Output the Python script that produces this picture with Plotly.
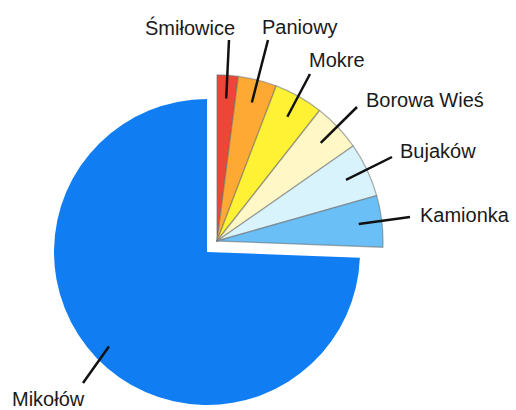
import math
import plotly.graph_objects as go

# Share of residents by district (percent)
districts = ["Śmiłowice", "Paniowy", "Mokre", "Borowa Wieś", "Bujaków", "Kamionka", "Mikołów"]
shares = [2.05, 3.75, 4.8, 4.7, 5.3, 5.0, 74.4]
colors = ["#EE4636", "#FDA934", "#FFF133", "#FFF8C6", "#D8F3FC", "#6AC0F6", "#117DF3"]

# Label anchors (pixels from top-left) and where each leader line ends
label_pos = [(190, 27), (260, 27), (307, 60), (364, 100), (398, 151), (418, 215), (10, 399)]
label_anchor = ["center", "left", "left", "left", "left", "left", "left"]
line_outer = [(229, 40), (268, 40), (310, 74), (357, 107), (392, 157), (410, 217), (83, 383)]

W, H = 516, 410
MAIN_C, MAIN_R = (207, 252), 153      # un-exploded main slice
GROUP_C, GROUP_R = (217, 241), 166    # exploded group of small districts


def px(x, y):
    return x / W, 1 - y / H


def domain(c, r):
    x0, y1 = px(c[0] - r, c[1] - r)
    x1, y0 = px(c[0] + r, c[1] + r)
    return dict(x=[x0, x1], y=[y0, y1])


main_idx = len(districts) - 1
transparent = "rgba(0,0,0,0)"

main_colors = [transparent] * len(districts)
main_colors[main_idx] = colors[main_idx]
group_colors = list(colors)
group_colors[main_idx] = transparent
group_lines = ["rgba(110,110,110,0.55)"] * len(districts)
group_lines[main_idx] = transparent

fig = go.Figure()
fig.add_trace(go.Pie(
    labels=districts, values=shares, sort=False, direction="clockwise", rotation=0,
    marker=dict(colors=main_colors, line=dict(width=0)),
    textinfo="none", hoverinfo="skip", showlegend=False,
    domain=domain(MAIN_C, MAIN_R),
))
fig.add_trace(go.Pie(
    labels=districts, values=shares, sort=False, direction="clockwise", rotation=0,
    marker=dict(colors=group_colors, line=dict(color=group_lines, width=1.3)),
    textinfo="none", hoverinfo="skip", showlegend=False,
    domain=domain(GROUP_C, GROUP_R),
))

# Leader lines start inside each slice, along its middle angle
total = sum(shares)
start = 0.0
shapes = []
annotations = []
for i, (name, v) in enumerate(zip(districts, shares)):
    mid = (start + v / 2) / total * 2 * math.pi
    start += v
    if i == main_idx:
        c, r, f = MAIN_C, MAIN_R, 0.89
    else:
        c, r, f = GROUP_C, GROUP_R, 0.86
    ix = c[0] + f * r * math.sin(mid)
    iy = c[1] - f * r * math.cos(mid)
    x0, y0 = px(ix, iy)
    x1, y1 = px(*line_outer[i])
    shapes.append(dict(type="line", xref="paper", yref="paper", x0=x0, y0=y0, x1=x1, y1=y1,
                       line=dict(color="#111111", width=2.5)))
    lx, ly = px(*label_pos[i])
    annotations.append(dict(text=name, x=lx, y=ly, xref="paper", yref="paper",
                            xanchor=label_anchor[i], yanchor="middle", showarrow=False,
                            font=dict(family="Liberation Sans, Arial, sans-serif", size=20,
                                      color="#1a1a1a")))

fig.update_layout(
    width=W, height=H, margin=dict(l=0, r=0, t=0, b=0),
    paper_bgcolor="white", plot_bgcolor="white",
    shapes=shapes, annotations=annotations,
)

fig.write_html("out.html")
